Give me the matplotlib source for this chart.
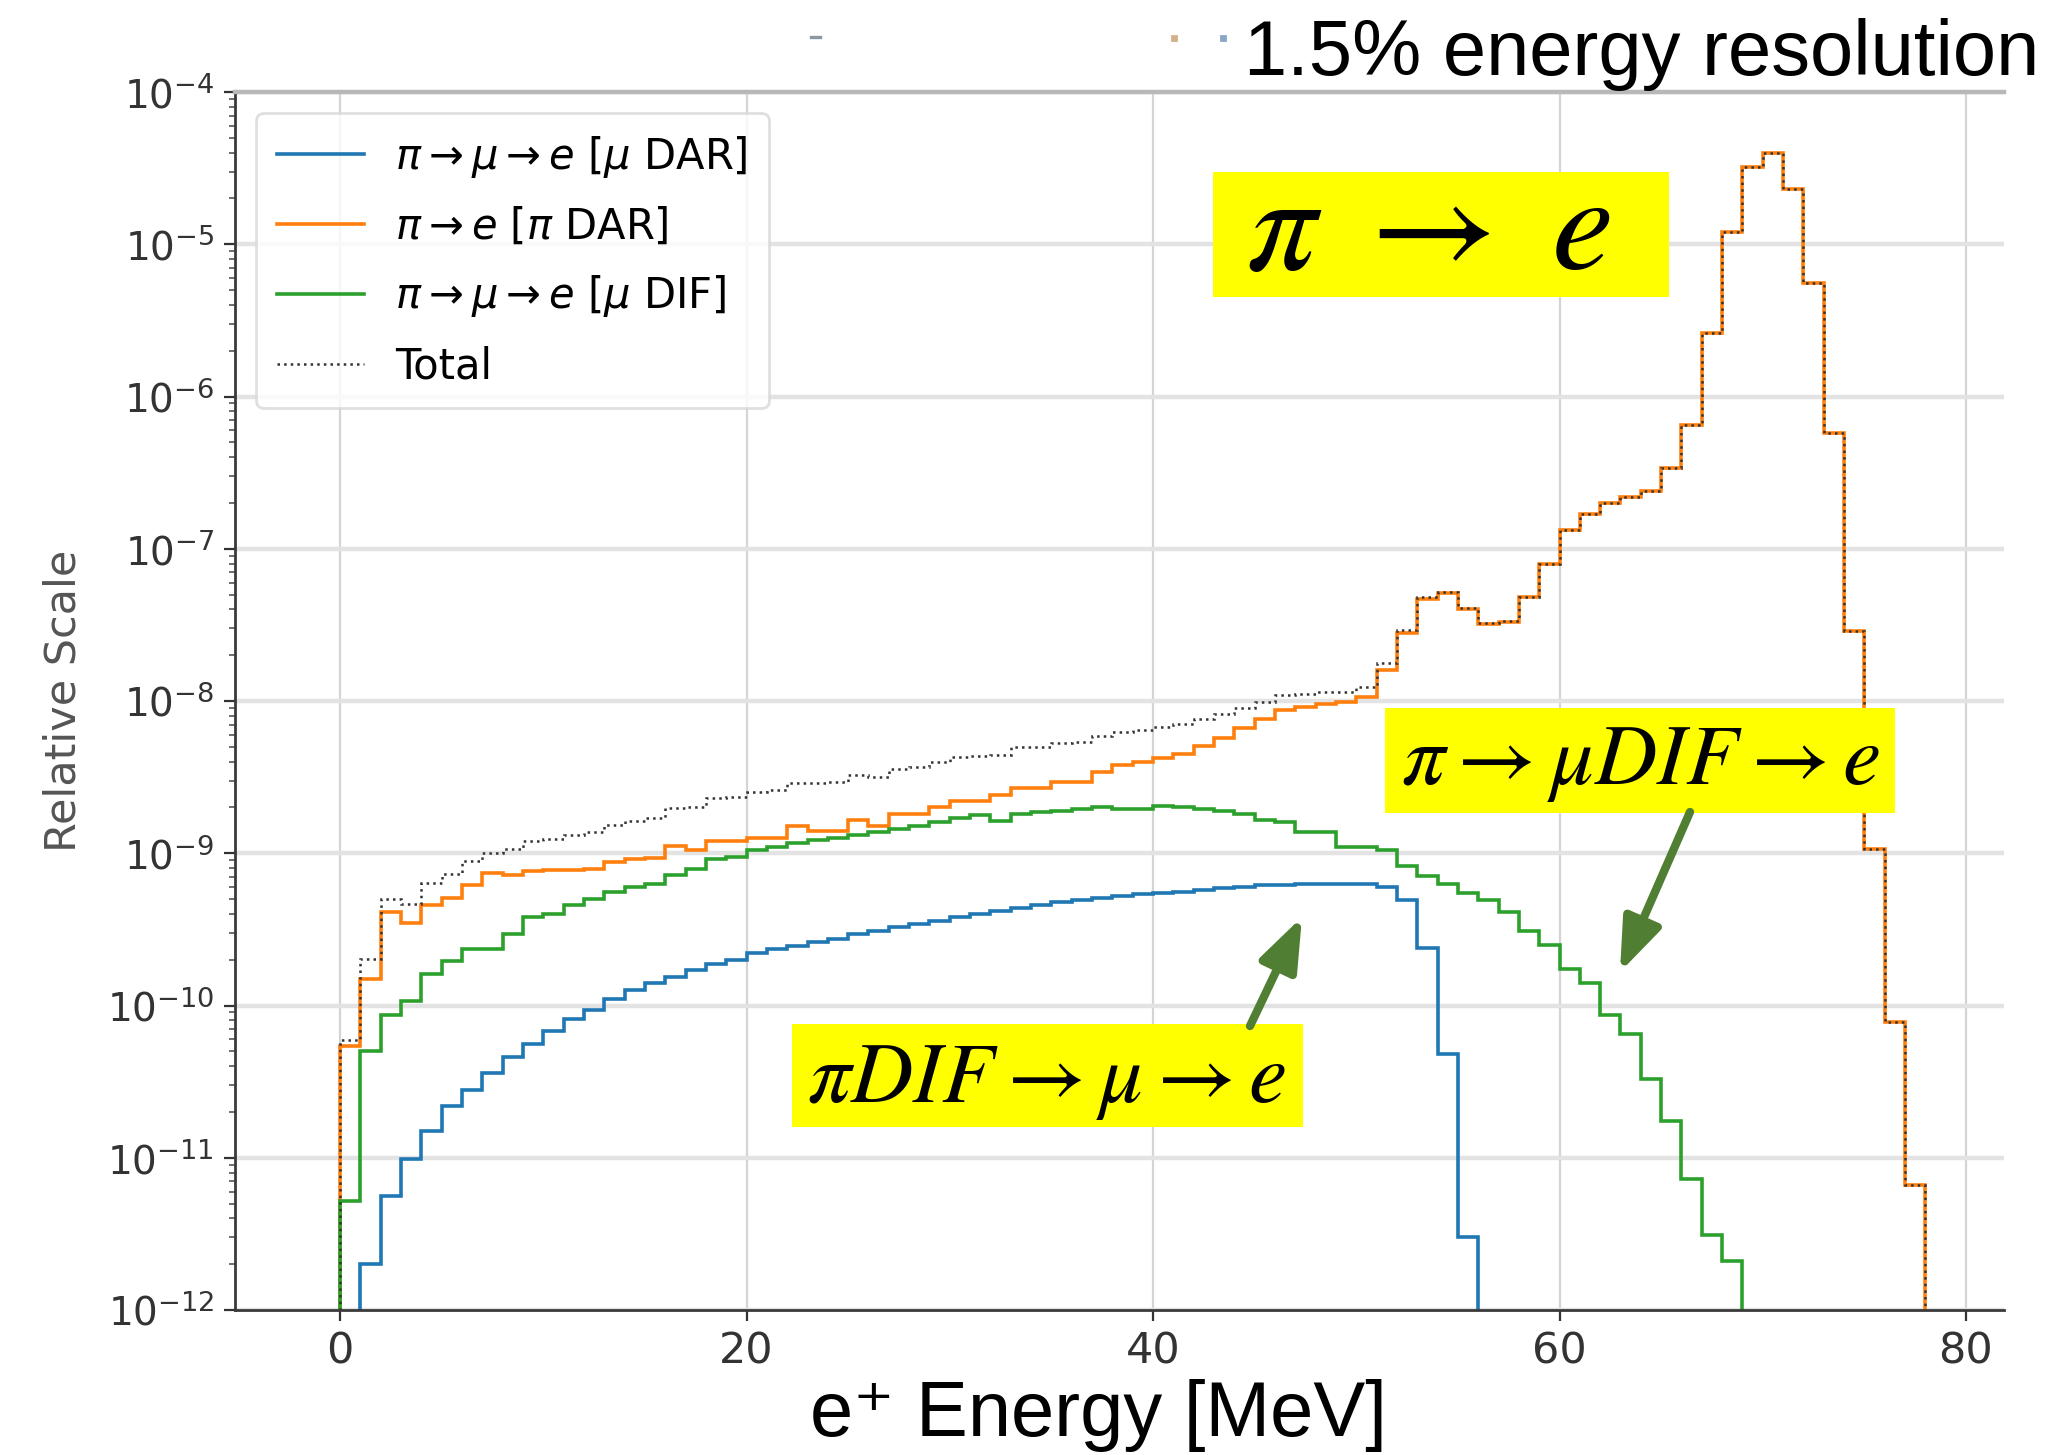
import numpy as np
import matplotlib
matplotlib.use("Agg")
import matplotlib.pyplot as plt
from matplotlib.patches import Rectangle, FancyArrowPatch
from matplotlib.lines import Line2D
from matplotlib.ticker import LogLocator, NullFormatter

# 1 MeV bins, 0 - 80 MeV
bin_edges = np.arange(0, 81)

# pi -> mu -> e, muon decay at rest
mu_dar = [
    0, 2.0e-12, 5.6e-12, 9.8e-12, 1.5e-11, 2.2e-11, 2.8e-11, 3.6e-11, 4.6e-11, 5.6e-11,
    6.8e-11, 8.1e-11, 9.3e-11, 1.1e-10, 1.26e-10, 1.4e-10, 1.55e-10, 1.7e-10, 1.86e-10, 2.0e-10,
    2.2e-10, 2.35e-10, 2.45e-10, 2.6e-10, 2.75e-10, 2.95e-10, 3.1e-10, 3.3e-10, 3.45e-10, 3.6e-10,
    3.8e-10, 4.0e-10, 4.15e-10, 4.35e-10, 4.55e-10, 4.8e-10, 4.9e-10, 5.1e-10, 5.25e-10, 5.4e-10,
    5.5e-10, 5.6e-10, 5.75e-10, 5.9e-10, 6.0e-10, 6.15e-10, 6.15e-10, 6.3e-10, 6.3e-10, 6.3e-10,
    6.3e-10, 6.0e-10, 4.9e-10, 2.4e-10, 4.8e-11, 3.0e-12, 0, 0, 0, 0,
    0, 0, 0, 0, 0, 0, 0, 0, 0, 0,
    0, 0, 0, 0, 0, 0, 0, 0, 0, 0,
]

# pi -> e, pion decay at rest
pi_dar = [
    5.4e-11, 1.5e-10, 4.1e-10, 3.5e-10, 4.6e-10, 5.1e-10, 6.2e-10, 7.4e-10, 7.2e-10, 7.6e-10,
    7.8e-10, 7.8e-10, 7.9e-10, 8.7e-10, 9.1e-10, 9.3e-10, 1.12e-9, 1.05e-9, 1.2e-9, 1.2e-9,
    1.26e-9, 1.26e-9, 1.5e-9, 1.4e-9, 1.4e-9, 1.66e-9, 1.5e-9, 1.82e-9, 1.82e-9, 2.0e-9,
    2.2e-9, 2.2e-9, 2.4e-9, 2.7e-9, 2.7e-9, 2.95e-9, 2.95e-9, 3.4e-9, 3.8e-9, 4.0e-9,
    4.2e-9, 4.5e-9, 5.1e-9, 5.75e-9, 6.6e-9, 7.6e-9, 8.7e-9, 9.1e-9, 9.5e-9, 9.8e-9,
    1.07e-8, 1.6e-8, 2.8e-8, 4.7e-8, 5.1e-8, 4.0e-8, 3.2e-8, 3.3e-8, 4.8e-8, 7.9e-8,
    1.32e-7, 1.7e-7, 2.0e-7, 2.2e-7, 2.4e-7, 3.4e-7, 6.5e-7, 2.6e-6, 1.2e-5, 3.2e-5,
    4.0e-5, 2.3e-5, 5.6e-6, 5.8e-7, 2.9e-8, 1.07e-9, 7.8e-11, 6.6e-12, 0, 0,
]

# pi -> mu -> e, muon decay in flight
mu_dif = [
    5.2e-12, 5.0e-11, 8.7e-11, 1.07e-10, 1.6e-10, 1.95e-10, 2.35e-10, 2.35e-10, 2.95e-10, 3.8e-10,
    4.0e-10, 4.6e-10, 5.0e-10, 5.6e-10, 6.0e-10, 6.3e-10, 7.2e-10, 7.9e-10, 9.1e-10, 9.5e-10,
    1.05e-9, 1.1e-9, 1.17e-9, 1.23e-9, 1.26e-9, 1.32e-9, 1.38e-9, 1.45e-9, 1.5e-9, 1.6e-9,
    1.7e-9, 1.78e-9, 1.62e-9, 1.82e-9, 1.86e-9, 1.9e-9, 1.95e-9, 2.0e-9, 1.95e-9, 1.95e-9,
    2.05e-9, 2.0e-9, 1.95e-9, 1.9e-9, 1.82e-9, 1.66e-9, 1.6e-9, 1.38e-9, 1.38e-9, 1.1e-9,
    1.1e-9, 1.05e-9, 8.3e-10, 7.1e-10, 6.3e-10, 5.5e-10, 4.9e-10, 4.1e-10, 3.1e-10, 2.5e-10,
    1.74e-10, 1.4e-10, 8.7e-11, 6.5e-11, 3.3e-11, 1.74e-11, 7.2e-12, 3.1e-12, 2.1e-12, 0,
    0, 0, 0, 0, 0, 0, 0, 0, 0, 0,
]

series_labels = [
    r'$\pi \rightarrow \mu \rightarrow e$ [$\mu$ DAR]',
    r'$\pi \rightarrow e$ [$\pi$ DAR]',
    r'$\pi \rightarrow \mu \rightarrow e$ [$\mu$ DIF]',
    'Total',
]

y_ticks = 10.0 ** np.arange(-12, -3)
x_ticks = [0, 20, 40, 60, 80]

total = np.array(mu_dar) + np.array(pi_dar) + np.array(mu_dif)

W, H = 2070, 1455
fig = plt.figure(figsize=(W / 200, H / 200), dpi=200)
fig.patch.set_facecolor('white')


def fx(px):
    return px / W


def fy(py):
    return 1 - py / H


ax = fig.add_axes([fx(235), fy(1310), (2004 - 235) / W, (1310 - 92) / H])
ax.set_yscale('log')

ax.stairs(mu_dar, bin_edges, baseline=0, color='#1f77b4', lw=1.3, label=series_labels[0])
ax.stairs(pi_dar, bin_edges, baseline=0, color='#ff7f0e', lw=1.3, label=series_labels[1])
ax.stairs(mu_dif, bin_edges, baseline=0, color='#2ca02c', lw=1.3, label=series_labels[2])
ax.stairs(total, bin_edges, baseline=0, color='#333333', lw=0.9, ls=':', label=series_labels[3])

ax.set_xlim(-5.17, 81.87)
ax.set_ylim(1e-12, 1e-4)
ax.set_xticks(x_ticks)
ax.set_yticks(y_ticks)
ax.yaxis.set_minor_locator(LogLocator(base=10, subs=np.arange(2, 10), numticks=100))
ax.yaxis.set_minor_formatter(NullFormatter())

ax.tick_params(axis='y', which='major', labelsize=14, colors='#333333', length=4)
ax.tick_params(axis='y', which='minor', colors='#555555', length=2.2)
ax.tick_params(axis='x', labelsize=15.5, colors='#333333', length=4)

ax.set_axisbelow(True)
ax.yaxis.grid(True, which='major', color='#e3e3e3', lw=1.6)
ax.xaxis.grid(True, color='#d4d4d4', lw=0.8)

for side in ('left', 'bottom'):
    ax.spines[side].set_color('#3a3a3a')
    ax.spines[side].set_linewidth(1.0)
ax.spines['top'].set_color('#b8b8b8')
ax.spines['top'].set_linewidth(1.6)
ax.spines['right'].set_visible(False)

ax.legend(loc='upper left', fontsize=15, handlelength=2.1, handletextpad=0.75,
          labelspacing=0.62, borderpad=0.5, framealpha=0.8, edgecolor='#d8d8d8')

sans = ['Liberation Sans', 'DejaVu Sans']
fig.text(fx(1244), fy(75), '1.5% energy resolution', fontsize=28, family=sans,
         ha='left', va='baseline')
fig.text(fx(1098), fy(1436), 'e\u207a Energy [MeV]', fontsize=28, family=sans,
         ha='center', va='baseline')
fig.text(fx(64), fy(701), 'Relative Scale', rotation=90, fontsize=15.5,
         color='#555555', ha='center', va='center')

# stray marks along the top edge
fig.add_artist(Line2D([fx(811), fx(820)], [fy(37), fy(37)], color='#8a96a3', lw=1.2))
fig.add_artist(Line2D([fx(1174)], [fy(38)], marker='s', ms=1.2, color='#d4b08a', lw=0))
fig.add_artist(Line2D([fx(1223)], [fy(38)], marker='s', ms=1.2, color='#8aa6c8', lw=0))


def yellow_box(x0, y0, x1, y1, text, size, tx, ty):
    fig.add_artist(Rectangle((fx(x0), fy(y1)), (x1 - x0) / W, (y1 - y0) / H,
                             transform=fig.transFigure, facecolor='#ffff00',
                             edgecolor='none', zorder=5))
    fig.text(fx(tx), fy(ty), text, fontsize=size, math_fontfamily='stix',
             ha='center', va='center', zorder=6)


yellow_box(1213, 172, 1669, 297, r'$\pi\ \rightarrow\ e$', 50, 1428, 230)
yellow_box(1385, 708, 1895, 813, r'$\pi \rightarrow \mu DIF \rightarrow e$', 31, 1640, 762)
yellow_box(792, 1024, 1303, 1127, r'$\pi DIF \rightarrow \mu \rightarrow e$', 31, 1046, 1080)

arrow_color = '#507e32'
for (x0, y0), (x1, y1) in [((1250, 1026), (1302, 917)), ((1690, 812), (1620, 972))]:
    fig.add_artist(FancyArrowPatch((fx(x0), fy(y0)), (fx(x1), fy(y1)),
                                   transform=fig.transFigure,
                                   arrowstyle='-|>,head_length=0.8,head_width=0.3',
                                   mutation_scale=20, lw=3, color=arrow_color,
                                   shrinkA=0, shrinkB=0, zorder=7))

fig.savefig('out.png', dpi=200)
